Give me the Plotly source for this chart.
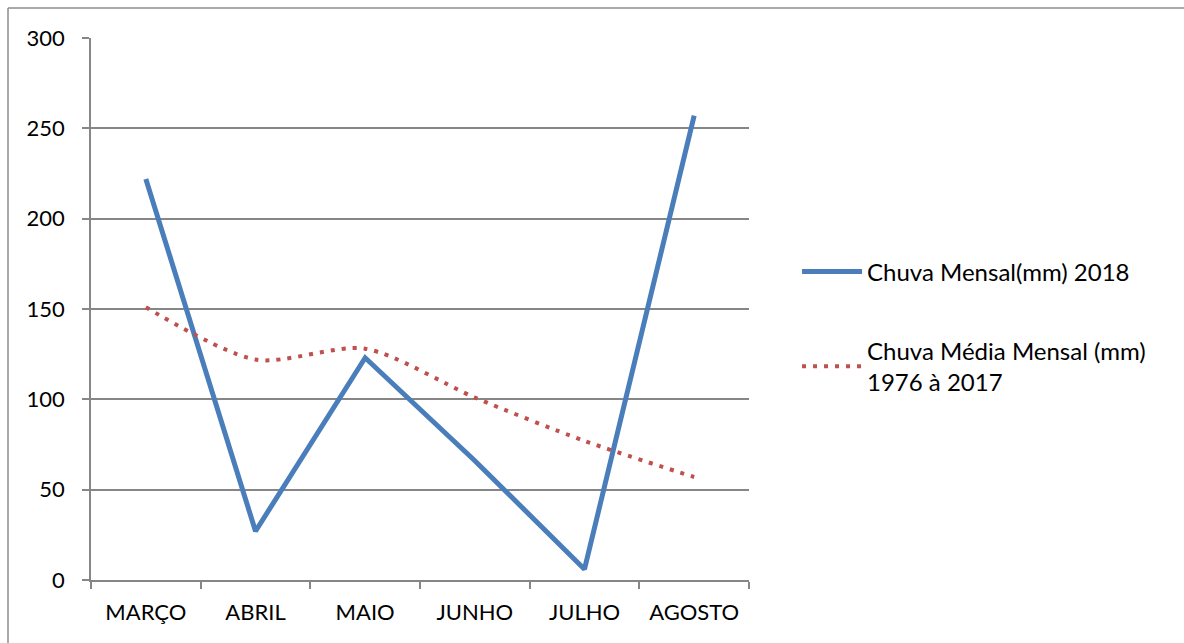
import plotly.graph_objects as go

meses = ["MARÇO", "ABRIL", "MAIO", "JUNHO", "JULHO", "AGOSTO"]
chuva_2018 = [222, 27, 123, 66, 6, 257]
chuva_media = [151, 122, 128, 101, 77, 57]
y_ticks = [0, 50, 100, 150, 200, 250, 300]

FONT = "Lato"
GRID = "#868686"
BORDER = "#8c8c8c"

fig = go.Figure()
fig.add_trace(go.Scatter(
    x=meses, y=chuva_2018, mode="lines",
    name="Chuva Mensal(mm) 2018", legendgroup="a",
    line=dict(color="#4A7EBB", width=5),
))
fig.add_trace(go.Scatter(
    x=meses, y=chuva_media, mode="lines",
    name="Chuva Média Mensal (mm)<br>1976 à 2017", legendgroup="b",
    line=dict(color="#C0504D", width=4, dash="4px,7px", shape="spline", smoothing=0.8),
))

# chart frame: top and left edges of the outer box
frame_x = -83 / 658
frame_y = (580 - 8) / 542

fig.update_layout(
    width=1184, height=643,
    margin=dict(l=91, r=435, t=38, b=63),
    paper_bgcolor="white", plot_bgcolor="white",
    font=dict(family=FONT, size=22, color="black"),
    showlegend=True,
    legend=dict(
        x=1.073, y=0.61, xanchor="left", yanchor="top",
        font=dict(family=FONT, size=24, color="black"),
        itemwidth=60, traceorder="grouped", tracegroupgap=45,
        bgcolor="rgba(0,0,0,0)",
    ),
    xaxis=dict(
        type="category", tickson="boundaries", range=[-0.5, 5.5],
        ticks="outside", ticklen=7, tickcolor=GRID, tickwidth=1.5,
        showgrid=False, showline=True, linecolor=GRID, linewidth=1.5,
        tickfont=dict(size=22), ticklabelstandoff=12,
    ),
    yaxis=dict(
        range=[0, 300], tickvals=y_ticks, ticks="outside", ticklen=7,
        tickcolor=GRID, tickwidth=1.5,
        showgrid=True, gridcolor=GRID, gridwidth=1.5,
        showline=True, linecolor=GRID, linewidth=1.5,
        zeroline=False, tickfont=dict(size=22), ticklabelstandoff=13,
    ),
    shapes=[
        dict(type="line", xref="paper", yref="paper",
             x0=frame_x, x1=1.8, y0=frame_y, y1=frame_y,
             line=dict(color=BORDER, width=1.5)),
        dict(type="line", xref="paper", yref="paper",
             x0=frame_x, x1=frame_x, y0=-0.3, y1=frame_y,
             line=dict(color=BORDER, width=1.5)),
    ],
)

fig.write_html("out.html")
